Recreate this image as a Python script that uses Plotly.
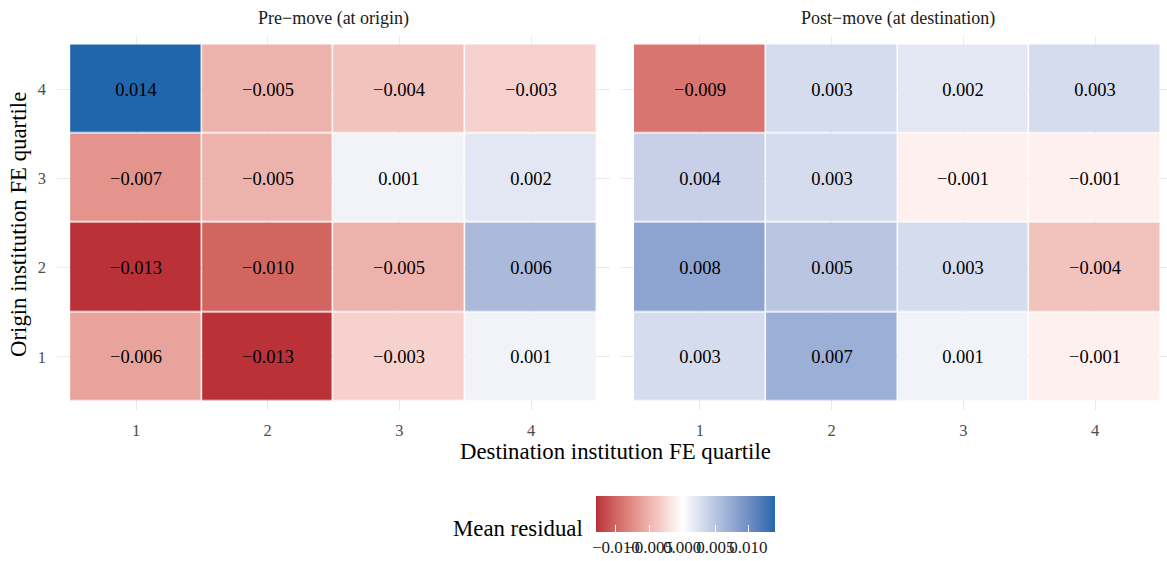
import plotly.graph_objects as go

# Quartile labels (destination on x, origin on y)
dest_quartiles = [1, 2, 3, 4]
origin_quartiles = [1, 2, 3, 4]

# Mean residual by origin quartile (rows, 1..4) and destination quartile (cols, 1..4)
pre_move = [
    [-0.006, -0.013, -0.003, 0.001],
    [-0.013, -0.010, -0.005, 0.006],
    [-0.007, -0.005, 0.001, 0.002],
    [0.014, -0.005, -0.004, -0.003],
]
post_move = [
    [0.003, 0.007, 0.001, -0.001],
    [0.008, 0.005, 0.003, -0.004],
    [0.004, 0.003, -0.001, -0.001],
    [-0.009, 0.003, 0.002, 0.003],
]
panel_titles = ["Pre\u2212move (at origin)", "Post\u2212move (at destination)"]
legend_ticks = [-0.010, -0.005, 0.000, 0.005, 0.010]

W, H = 1167, 561
FONT = "Liberation Serif, Times New Roman, serif"

LOW, MID, HIGH = "#B2182B", "#FFFFFF", "#2166AC"


# --- diverging palette interpolated in CIE Lab ---
def hex_to_rgb(h):
    h = h.lstrip("#")
    return [int(h[i:i + 2], 16) / 255 for i in (0, 2, 4)]


def srgb_to_lin(c):
    return c / 12.92 if c <= 0.04045 else ((c + 0.055) / 1.055) ** 2.4


def lin_to_srgb(c):
    c = max(0.0, min(1.0, c))
    return 12.92 * c if c <= 0.0031308 else 1.055 * c ** (1 / 2.4) - 0.055


WHITE_REF = (0.95047, 1.0, 1.08883)


def rgb_to_lab(rgb):
    r, g, b = [srgb_to_lin(c) for c in rgb]
    x = 0.4124 * r + 0.3576 * g + 0.1805 * b
    y = 0.2126 * r + 0.7152 * g + 0.0722 * b
    z = 0.0193 * r + 0.1192 * g + 0.9505 * b

    def f(t):
        return t ** (1 / 3) if t > 0.008856 else 7.787 * t + 16 / 116

    fx, fy, fz = f(x / WHITE_REF[0]), f(y / WHITE_REF[1]), f(z / WHITE_REF[2])
    return (116 * fy - 16, 500 * (fx - fy), 200 * (fy - fz))


def lab_to_rgb(lab):
    L, a, b = lab
    fy = (L + 16) / 116
    fx = fy + a / 500
    fz = fy - b / 200

    def finv(t):
        return t ** 3 if t ** 3 > 0.008856 else (t - 16 / 116) / 7.787

    x, y, z = finv(fx) * WHITE_REF[0], finv(fy) * WHITE_REF[1], finv(fz) * WHITE_REF[2]
    r = 3.2406 * x - 1.5372 * y - 0.4986 * z
    g = -0.9689 * x + 1.8758 * y + 0.0415 * z
    bb = 0.0557 * x - 0.2040 * y + 1.0570 * z
    return [round(lin_to_srgb(c) * 255) for c in (r, g, bb)]


LAB_LOW, LAB_MID, LAB_HIGH = (rgb_to_lab(hex_to_rgb(c)) for c in (LOW, MID, HIGH))


def div_color(t):
    if t <= 0.5:
        a, b, s = LAB_LOW, LAB_MID, t / 0.5
    else:
        a, b, s = LAB_MID, LAB_HIGH, (t - 0.5) / 0.5
    lab = [a[i] + (b[i] - a[i]) * s for i in range(3)]
    r, g, bl = lab_to_rgb(lab)
    return f"rgb({r},{g},{bl})"


all_vals = [v for m in (pre_move, post_move) for row in m for v in row]
zmin, zmax = min(all_vals), max(all_vals)
half = max(abs(zmin), abs(zmax))
n_stops = 61
colorscale = []
for i in range(n_stops):
    p = i / (n_stops - 1)
    v = zmin + p * (zmax - zmin)
    colorscale.append([p, div_color(v / (2 * half) + 0.5)])


def fmt(v):
    s = f"{abs(v):.3f}"
    return ("\u2212" + s) if v < 0 else s


fig = go.Figure()
for k, mat in enumerate([pre_move, post_move]):
    fig.add_trace(go.Heatmap(
        x=dest_quartiles, y=origin_quartiles, z=mat,
        text=[[fmt(v) for v in row] for row in mat],
        texttemplate="%{text}",
        textfont=dict(family=FONT, size=18.5, color="#000000"),
        coloraxis="coloraxis", xgap=1.5, ygap=1.5,
        xaxis="x" if k == 0 else "x2", yaxis="y" if k == 0 else "y2",
        hoverinfo="skip",
    ))

# panel geometry (pixels)
left_px = (57, 610)
right_px = (621, 1167)
top_px, bot_px = 35.6, 410.4
ydom = [(H - bot_px) / H, (H - top_px) / H]

axis_common = dict(
    showgrid=True, gridcolor="#EBEBEB", gridwidth=1.1, zeroline=False,
    showline=False, ticks="", tickfont=dict(family=FONT, size=16.5, color="#4D4D4D"),
    tickvals=[1, 2, 3, 4], ticktext=["1", "2", "3", "4"],
)

# colour bar geometry (pixels)
cb_left, cb_top, cb_len, cb_thick = 596, 496, 179, 36

fig.update_layout(
    width=W, height=H, margin=dict(l=0, r=0, t=0, b=0, autoexpand=False),
    paper_bgcolor="white", plot_bgcolor="white",
    font=dict(family=FONT, color="#1A1A1A"),
    xaxis=dict(axis_common, domain=[left_px[0] / W, left_px[1] / W], range=[0.4, 4.6],
               anchor="y", ticklabelstandoff=8),
    yaxis=dict(axis_common, domain=ydom, range=[0.4, 4.6], anchor="x",
               ticklabelstandoff=10),
    xaxis2=dict(axis_common, domain=[right_px[0] / W, right_px[1] / W], range=[0.401, 4.545],
                anchor="y2", ticklabelstandoff=8),
    yaxis2=dict(axis_common, domain=ydom, range=[0.4, 4.6], anchor="x2",
                showticklabels=False),
    coloraxis=dict(
        colorscale=colorscale, cmin=zmin, cmax=zmax,
        colorbar=dict(
            orientation="h", xref="paper", yref="paper",
            x=cb_left / W, xanchor="left", y=1 - cb_top / H, yanchor="top",
            lenmode="pixels", len=cb_len, thickness=cb_thick,
            xpad=0, ypad=0, outlinewidth=0,
            tickvals=legend_ticks, ticktext=[fmt(v) for v in legend_ticks],
            ticks="inside", tickcolor="white", ticklen=7, tickwidth=1.2,
            tickangle=0, tickfont=dict(family=FONT, size=17, color="#1A1A1A"),
        ),
    ),
)

# matching white tick marks along the top edge of the colour bar
for v in legend_ticks:
    xp = cb_left + (v - zmin) / (zmax - zmin) * cb_len
    fig.add_shape(type="line", xref="paper", yref="paper",
                  x0=xp / W, x1=xp / W, y0=1 - cb_top / H, y1=1 - (cb_top + 7) / H,
                  line=dict(color="white", width=1.2))

annotations = [
    dict(text=panel_titles[0], x=333.5 / W, y=1 - 18 / H),
    dict(text=panel_titles[1], x=898 / W, y=1 - 18 / H),
]
for a in annotations:
    a.update(xref="paper", yref="paper", showarrow=False, xanchor="center", yanchor="middle",
             font=dict(family=FONT, size=18, color="#1A1A1A"))
annotations += [
    dict(text="Destination institution FE quartile", x=615 / W, y=1 - 451 / H,
         xref="paper", yref="paper", showarrow=False, xanchor="center", yanchor="middle",
         font=dict(family=FONT, size=22.8, color="#000000")),
    dict(text="Origin institution FE quartile", x=18 / W, y=1 - 225 / H, textangle=-90,
         xref="paper", yref="paper", showarrow=False, xanchor="center", yanchor="middle",
         font=dict(family=FONT, size=22.8, color="#000000")),
    dict(text="Mean residual", x=585 / W, y=1 - 528 / H,
         xref="paper", yref="paper", showarrow=False, xanchor="right", yanchor="middle",
         font=dict(family=FONT, size=22.8, color="#000000")),
]
fig.update_layout(annotations=annotations)

fig.write_html("out.html")
